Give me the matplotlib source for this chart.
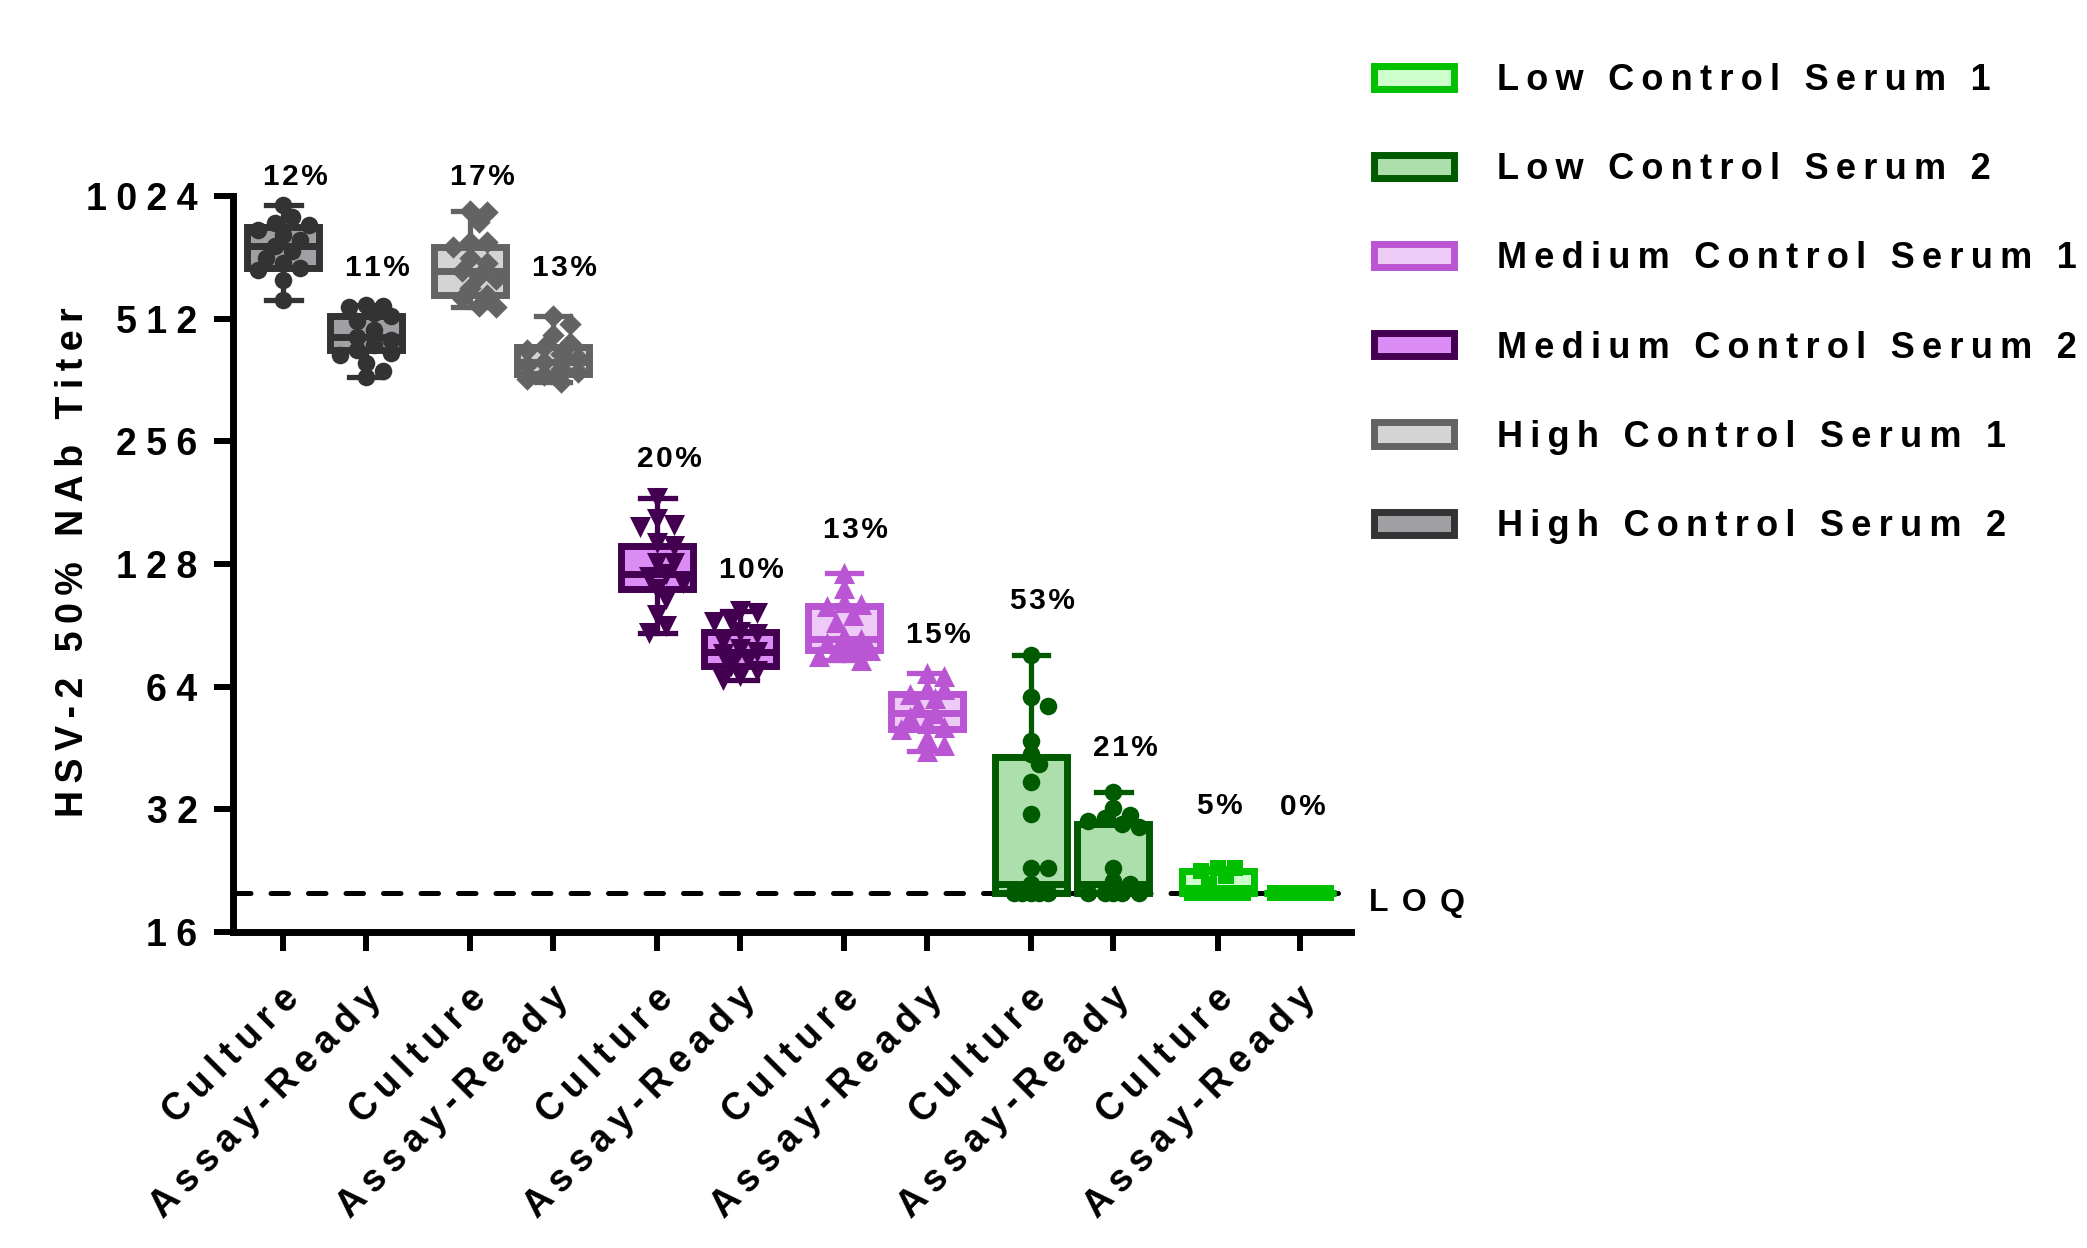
import numpy as np
import matplotlib
matplotlib.use("Agg")
import matplotlib.pyplot as plt
from matplotlib.patches import Patch
import matplotlib.transforms as mtransforms

plt.rcParams['font.family'] = ['Liberation Sans', 'DejaVu Sans']
plt.rcParams['font.weight'] = 'bold'

# ---------------- data ----------------
groups = ['High Control Serum 2', 'High Control Serum 1',
          'Medium Control Serum 2', 'Medium Control Serum 1',
          'Low Control Serum 2', 'Low Control Serum 1']
conditions = ['Culture', 'Assay-Ready']
cv_labels = ['12%', '11%', '17%', '13%', '20%', '10%',
             '13%', '15%', '53%', '21%', '5%', '0%']

box_min = [569, 369, 548, 357, 86.7, 66.4, 74.5, 44.4, 20, 20, 20, 20]
box_q1 = [681, 429, 585, 375, 111, 72, 78.8, 50.5, 20, 20, 20, 20]
box_med = [770, 462, 670, 400, 121, 78, 84, 55, 21, 21, 20, 20]
box_q3 = [859, 520, 768, 437, 141.5, 87, 101, 61.4, 43.1, 29.5, 22.6, 20]
box_max = [971, 553, 943, 520, 186, 98.4, 121.7, 69, 76.4, 35.2, 23, 20]

points = [
    [971, 907, 880, 869, 845, 820, 800, 770, 750, 720, 700, 681, 675, 637, 569],
    [553, 551, 548, 530, 520, 505, 480, 462, 455, 440, 429, 421, 418, 398, 380, 369],
    [943, 936, 885, 790, 788, 768, 720, 700, 670, 650, 640, 610, 585, 575, 550, 548],
    [520, 498, 467, 446, 437, 430, 420, 410, 400, 395, 385, 378, 372, 365, 357],
    [186, 165, 160, 158, 144, 141.5, 129, 129, 121, 119, 115, 111, 105, 96, 90, 86.7],
    [98.4, 97, 92.6, 92, 87, 86, 83, 79, 78, 77, 75, 72, 70, 68, 66.4],
    [121.7, 111.7, 103, 102, 101, 96, 92, 85, 84, 82, 80, 78.8, 78, 76, 74.5],
    [69, 68, 63.2, 63, 61.4, 60, 57, 55, 54, 52, 51, 50.5, 48, 46, 44.4],
    [76.4, 60.5, 57.4, 47.2, 43.7, 41.3, 37.3, 31.1, 23, 23, 21, 20, 20, 20, 20, 20],
    [35.2, 32.2, 31, 30.5, 30, 29.5, 29, 23, 21.4, 21, 20, 20, 20, 20, 20],
    [23, 23, 22.6, 22, 21, 20, 20, 20, 20, 20, 20, 20, 20, 20, 20],
    [20, 20, 20, 20, 20, 20, 20, 20, 20, 20, 20, 20, 20, 20, 20],
]
loq_value = 20
y_ticks = [16, 32, 64, 128, 256, 512, 1024]

# ---------------- style ----------------
edge_colors = ['#333333', '#636363', '#430050', '#BA55D3', '#005A00', '#00C000']
fill_colors = ['#A0A0A4', '#D4D4D4', '#DC8CF5', '#EDCBF6', '#ADDFAD', '#CCFFCC']
markers = ['o', 'D', 'v', '^', 'o', 's']
marker_sizes = [160, 130, 230, 230, 160, 140]
legend_order = [5, 4, 3, 2, 1, 0]
cv_label_y = [1141, 683, 1141, 683, 232, 124, 155, 85.5, 104, 45.2, 32.7, 32.4]

W_PX, H_PX = 2087, 1248
DPI = 100


def spaced(s, sp='\u2005'):
    return sp.join(s)


fig = plt.figure(figsize=(W_PX / DPI, H_PX / DPI), dpi=DPI)
ax_l, ax_r, ax_t, ax_b = 233, 1351, 196, 932
ax = fig.add_axes([ax_l / W_PX, 1 - ax_b / H_PX, (ax_r - ax_l) / W_PX, (ax_b - ax_t) / H_PX])

pair_step = 2.265
positions = np.array([g * pair_step + k for g in range(len(groups)) for k in range(len(conditions))])
xlim = (-0.612, 12.94)
ax.set_xlim(*xlim)
ax.set_yscale('log', base=2)
ax.set_ylim(16, 1024)

px_per_unit = (ax_r - ax_l) / (xlim[1] - xlim[0])
px_per_doubling = (ax_b - ax_t) / 6.0


def swarm(vals, diam_px, max_off_units=0.36):
    vals = np.asarray(vals, float)
    ys = np.log2(vals) * px_per_doubling
    order = np.argsort(-vals, kind='stable')
    placed = []
    offs = np.zeros(len(vals))
    step = diam_px * 0.5
    maxk = int(max_off_units * px_per_unit / step)
    cands = [0]
    for k in range(1, maxk + 1):
        cands += [k * step, -k * step]
    for i in order:
        best, bestd = 0, -1
        for c in cands:
            d = min([np.hypot(c - px, ys[i] - py) for px, py in placed] + [1e9])
            if d >= diam_px * 0.75:
                best = c
                break
            if d > bestd:
                best, bestd = c, d
        offs[i] = best
        placed.append((best, ys[i]))
    return offs / px_per_unit


# LOQ line
ax.axhline(loq_value, color='black', lw=3.6, ls=(0, (3.5, 4)), dash_capstyle='round', zorder=1)

for i in range(len(positions)):
    g = i // 2
    st = [dict(med=box_med[i], q1=box_q1[i], q3=box_q3[i],
               whislo=box_min[i], whishi=box_max[i], label='')]
    ax.bxp(st, positions=[positions[i]], widths=0.873, capwidths=0.42,
           patch_artist=True, showfliers=False, manage_ticks=False,
           boxprops=dict(facecolor=fill_colors[g], edgecolor=edge_colors[g], linewidth=5),
           whiskerprops=dict(color=edge_colors[g], linewidth=3.8),
           capprops=dict(color=edge_colors[g], linewidth=3.8),
           medianprops=dict(color=edge_colors[g], linewidth=5),
           zorder=3)
    offs = swarm(points[i], 17)
    ax.scatter(positions[i] + offs, points[i], s=marker_sizes[g], marker=markers[g],
               color=edge_colors[g], linewidths=0, zorder=4, clip_on=False)
    ax.text(positions[i] - 0.25, cv_label_y[i], spaced(cv_labels[i], '\u200a'), ha='left',
            va='center', fontsize=21.5, fontweight='bold', zorder=5)

# axes styling
for s in ['top', 'right']:
    ax.spines[s].set_visible(False)
for s in ['left', 'bottom']:
    ax.spines[s].set_linewidth(5)
ax.set_yticks(y_ticks)
ax.set_yticklabels([spaced(str(v)) for v in y_ticks], fontsize=27, fontweight='bold')
ax.yaxis.set_minor_locator(matplotlib.ticker.NullLocator())
ax.set_xticks(positions)
ax.set_xticklabels([spaced(conditions[i % 2], '\u2009') for i in range(len(positions))],
                   fontsize=27, fontweight='bold', rotation=45, ha='right',
                   rotation_mode='anchor', va='center')
ax.tick_params(axis='both', length=14, width=4.3)
ax.tick_params(axis='y', pad=11.5)
ax.tick_params(axis='x', pad=30)
offset = mtransforms.ScaledTranslation(10 / DPI, 0, fig.dpi_scale_trans)
for lab in ax.get_xticklabels():
    lab.set_transform(lab.get_transform() + offset)

fig.text(73 / W_PX, 1 - 562 / H_PX, spaced('HSV-2 50% NAb Titer', '\u2009'), rotation=90,
         ha='center', va='center', fontsize=27, fontweight='bold')

ax.text(1.016, 18.9, 'L\u2005\u2006O\u2005\u2006Q', transform=ax.get_yaxis_transform(),
        ha='left', va='center', fontsize=23, fontweight='bold')

handles = [Patch(facecolor=fill_colors[g], edgecolor=edge_colors[g], linewidth=5,
                 label=spaced(groups[g], '\u2009')) for g in legend_order]
fs_leg = 26
leg = fig.legend(handles=handles, loc='upper left',
                 bbox_to_anchor=(1373.5 / W_PX, 1 - 63 / H_PX),
                 frameon=False, borderpad=0, borderaxespad=0,
                 prop=dict(size=fs_leg, weight='bold'),
                 handlelength=2.22, handleheight=0.61, handletextpad=1.2,
                 labelspacing=1.5)

fig.savefig('out.png', dpi=DPI)
